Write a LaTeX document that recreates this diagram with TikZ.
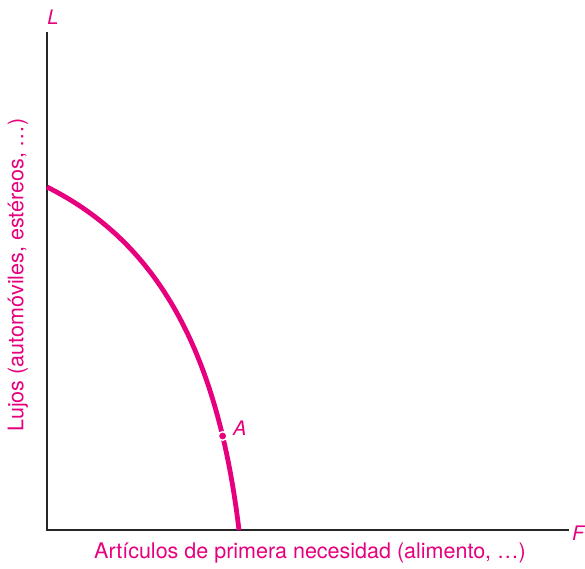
\documentclass[tikz,border=0pt]{standalone}
\usepackage{fontspec}
\setmainfont{TeX Gyre Heros}
\definecolor{curvemag}{RGB}{230,0,126}

\begin{document}
\begin{tikzpicture}[x=1pt, y=-1pt,
  axis/.style = {line width=1.3pt, black!85},
  lbl/.style = {text=curvemag, font=\fontsize{21.5}{24}\selectfont, inner sep=0pt},
  ital/.style = {text=curvemag, font=\fontsize{20}{22}\selectfont\itshape, inner sep=0pt},
  ppf/.style = {line width=4.8pt, curvemag}]
\useasboundingbox (0,0) rectangle (585,568);

\coordinate (O) at (47,530);
\coordinate (Ltop) at (47,32);
\coordinate (Fend) at (569,530);

% axes
\draw[axis] (Ltop) -- (O) -- (Fend);
\node[ital] (L) at (53,17) {L};
\node[ital, anchor=west] (F) at (572,533) {F};

% frontera
\draw[ppf] (47,187) .. controls (157,242) and (217.4,350) .. (239,530)
  coordinate[pos=0.812] (Apt);
\fill[curvemag, draw=white, line width=1.4pt] (Apt) circle (4.3pt);
\node[ital, anchor=west] (A) at (233,428) {A};

% ejes: rotulos
\node[lbl] (xlab) at (310,553) {Artículos de primera necesidad (alimento, …)};
\node[lbl, rotate=90] (ylab) at (18,275) {Lujos (automóviles, estéreos, …)};
\end{tikzpicture}
\end{document}
